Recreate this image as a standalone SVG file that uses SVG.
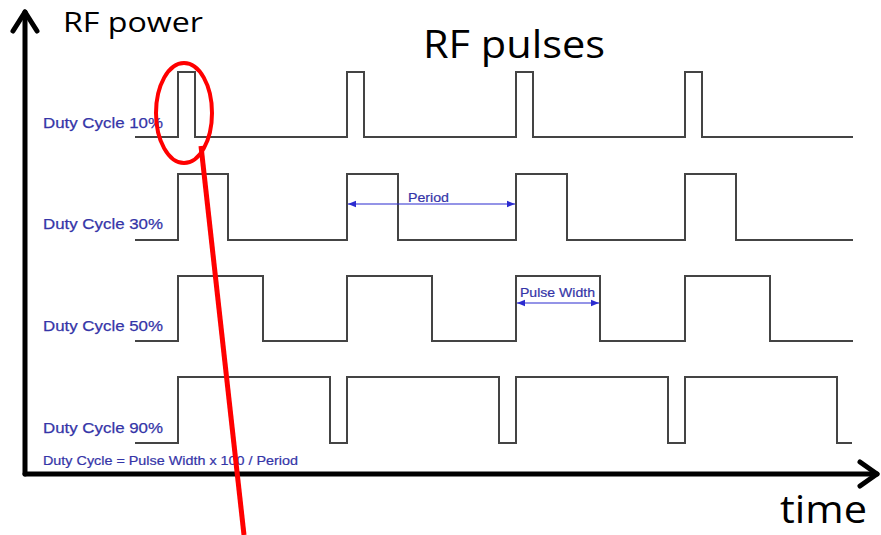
<svg xmlns="http://www.w3.org/2000/svg" width="881" height="535" viewBox="0 0 881 535">
<style>
.wave{fill:none;stroke:#444;stroke-width:2;stroke-linejoin:miter}
.axis{fill:none;stroke:#000;stroke-width:5;stroke-linecap:round;stroke-linejoin:round}
.lbl{font-family:"Liberation Sans",Arial,sans-serif;font-size:15.5px;fill:#3535a8;stroke:#3535a8;stroke-width:0.25}
.small{font-family:"Liberation Sans",Arial,sans-serif;font-size:13px;fill:#3535a8;stroke:#3535a8;stroke-width:0.2}
.big{font-family:"Open Sans","Noto Sans",sans-serif;fill:#000}
.dim{stroke:#2b2bd0;stroke-width:1.2;fill:none}
</style>
<defs>
<marker id="ah" viewBox="0 0 10 10" refX="10" refY="5" markerWidth="10" markerHeight="8" markerUnits="userSpaceOnUse" orient="auto-start-reverse">
<path d="M0,1 L10,5 L0,9 z" fill="#2b2bd0"/>
</marker>
</defs>
<g id="axes">
<polyline class="axis" points="25,474 25,12"/>
<polyline class="axis" points="13,31 25,12 37,31"/>
<polyline class="axis" points="25,474 877,474"/>
<polyline class="axis" points="860,462 877,474 860,486"/>
<text class="big" x="63" y="32" font-size="28" textLength="140" lengthAdjust="spacingAndGlyphs">RF power</text>
<text class="big" x="423" y="58" font-size="38" textLength="182" lengthAdjust="spacingAndGlyphs">RF pulses</text>
<text class="big" x="780" y="523" font-size="38" textLength="87" lengthAdjust="spacingAndGlyphs">time</text>
</g>
<g id="row10">
<text class="lbl" x="43" y="128" textLength="120" lengthAdjust="spacingAndGlyphs">Duty Cycle 10%</text>
<polyline class="wave" points="135,137 178,137 178,72 195,72 195,137 347,137 347,72 364,72 364,137 516,137 516,72 533,72 533,137 685,137 685,72 702,72 702,137 853,137"/>
</g>
<g id="row30">
<text class="lbl" x="43" y="229" textLength="120" lengthAdjust="spacingAndGlyphs">Duty Cycle 30%</text>
<polyline class="wave" points="135,240 178,240 178,174 228,174 228,240 347,240 347,174 398,174 398,240 516,240 516,174 567,174 567,240 685,240 685,174 736,174 736,240 853,240"/>
</g>
<g id="row50">
<text class="lbl" x="43" y="331" textLength="120" lengthAdjust="spacingAndGlyphs">Duty Cycle 50%</text>
<polyline class="wave" points="135,341 178,341 178,276 263,276 263,341 347,341 347,276 432,276 432,341 516,341 516,276 600,276 600,341 685,341 685,276 770,276 770,341 853,341"/>
</g>
<g id="row90">
<text class="lbl" x="43" y="433" textLength="120" lengthAdjust="spacingAndGlyphs">Duty Cycle 90%</text>
<polyline class="wave" points="135,443 178,443 178,377 330,377 330,443 347,443 347,377 499,377 499,443 516,443 516,377 668,377 668,443 685,443 685,377 837,377 837,443 852,443"/>
<text class="small" x="43" y="465" font-size="12" textLength="255" lengthAdjust="spacingAndGlyphs">Duty Cycle = Pulse Width x 100 / Period</text>
</g>
<g id="connectors">
<line class="dim" x1="348" y1="204" x2="515" y2="204" marker-start="url(#ah)" marker-end="url(#ah)"/>
<text class="small" x="408" y="202" textLength="41" lengthAdjust="spacingAndGlyphs">Period</text>
<line class="dim" x1="517" y1="303" x2="599" y2="303" marker-start="url(#ah)" marker-end="url(#ah)"/>
<text class="small" x="520" y="297" textLength="75" lengthAdjust="spacingAndGlyphs">Pulse Width</text>
</g>
<g id="highlight">
<ellipse cx="184" cy="113" rx="28" ry="50" fill="none" stroke="#f00" stroke-width="4"/>
<line x1="201" y1="146" x2="244" y2="535" stroke="#f00" stroke-width="5"/>
</g>
</svg>
